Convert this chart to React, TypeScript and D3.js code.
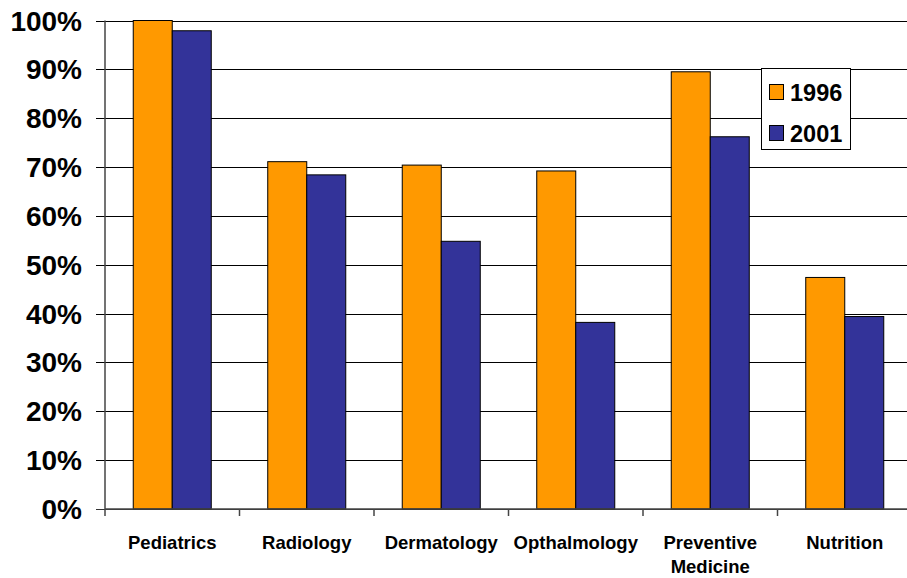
import React from "react";
import * as d3 from "d3";

const categories: string[][] = [
  ["Pediatrics"],
  ["Radiology"],
  ["Dermatology"],
  ["Opthalmology"],
  ["Preventive", "Medicine"],
  ["Nutrition"],
];
const seriesNames = ["1996", "2001"];
const values1996 = [100, 71.1, 70.4, 69.2, 89.5, 47.4];
const values2001 = [97.9, 68.4, 54.8, 38.2, 76.2, 39.4];
const yTicks = [0, 10, 20, 30, 40, 50, 60, 70, 80, 90, 100];
const colors = ["#FF9900", "#333399"];

export default function App() {
  const W = 907;
  const H = 578;
  const left = 105;
  const right = 912;
  const top = 20.5;
  const bottom = 509;
  const font = "'Liberation Sans', Arial, sans-serif";

  const x = d3
    .scaleBand<number>()
    .domain(categories.map((_, i) => i))
    .range([left, right])
    .paddingInner(0)
    .paddingOuter(0);
  const y = d3.scaleLinear().domain([0, 100]).range([bottom, top]);
  const barW = x.bandwidth() * 0.29;
  const series = [values1996, values2001];

  return (
    <svg
      width={W}
      height={H}
      style={{ position: "absolute", left: 0, top: 0, background: "#fff" }}
    >
      {/* gridlines */}
      {yTicks.map((t) => (
        <g key={t}>
          <line
            x1={96}
            x2={right}
            y1={Math.round(y(t)) + 0.5}
            y2={Math.round(y(t)) + 0.5}
            stroke={t === 0 ? "#333" : "#000"}
            strokeWidth={1.2}
          />
          <text
            x={82}
            y={y(t) + 10}
            textAnchor="end"
            fontFamily={font}
            fontWeight="bold"
            fontSize={28}
            fill="#000"
          >
            {t}%
          </text>
        </g>
      ))}
      {/* bars */}
      {categories.map((_, i) =>
        series.map((s, j) => {
          const cx = (x(i) as number) + x.bandwidth() / 2;
          const bx = cx - barW + j * barW;
          return (
            <rect
              key={`${i}-${j}`}
              x={bx}
              y={y(s[i])}
              width={barW}
              height={bottom - y(s[i])}
              fill={colors[j]}
              stroke="#000"
              strokeWidth={1}
            />
          );
        })
      )}
      {/* axes */}
      <line x1={left} x2={left} y1={top} y2={bottom + 7} stroke="#444" strokeWidth={1.5} />
      <line x1={left} x2={right} y1={bottom} y2={bottom} stroke="#444" strokeWidth={1.5} />
      {categories.map((_, i) => (
        <line
          key={`t${i}`}
          x1={(x(i) as number) + x.bandwidth()}
          x2={(x(i) as number) + x.bandwidth()}
          y1={bottom}
          y2={bottom + 7}
          stroke="#444"
          strokeWidth={1.5}
        />
      ))}
      {/* category labels */}
      {categories.map((lines, i) => (
        <text
          key={`c${i}`}
          textAnchor="middle"
          fontFamily={font}
          fontWeight="bold"
          fontSize={18.5}
          fill="#000"
        >
          {lines.map((l, k) => (
            <tspan key={k} x={(x(i) as number) + x.bandwidth() / 2} y={549 + k * 24}>
              {l}
            </tspan>
          ))}
        </text>
      ))}
      {/* legend */}
      <rect x={761.5} y={68.5} width={89} height={81} fill="#fff" stroke="#000" strokeWidth={1} />
      {seriesNames.map((n, j) => (
        <g key={n}>
          <rect
            x={769.5}
            y={84.5 + j * 41}
            width={14}
            height={15}
            fill={colors[j]}
            stroke="#000"
            strokeWidth={1}
          />
          <text
            x={790}
            y={101 + j * 41}
            fontFamily={font}
            fontWeight="bold"
            fontSize={23.5}
            fill="#000"
          >
            {n}
          </text>
        </g>
      ))}
    </svg>
  );
}
